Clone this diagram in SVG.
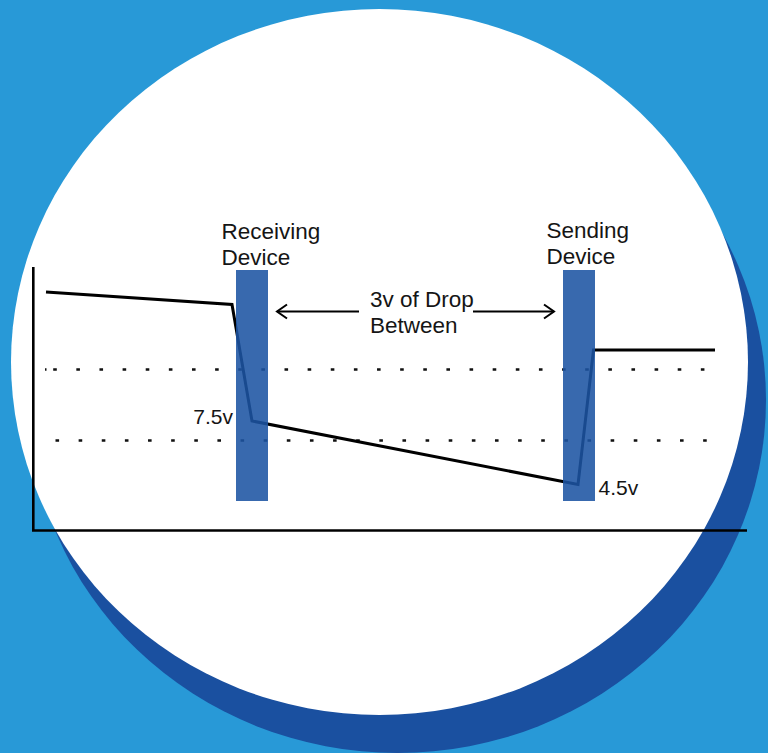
<svg xmlns="http://www.w3.org/2000/svg" width="768" height="753" viewBox="0 0 768 753">
  <style>
    .lbl { font-family: "Liberation Sans", Arial, sans-serif; font-size: 22.5px; fill: #151515; }
    .val { font-size: 21px; }
    .axis { stroke: #000; stroke-width: 2.6; fill: none; }
    .dots { stroke: #111; stroke-width: 2.4; stroke-dasharray: 3.6 19.53; fill: none; }
    .bar { fill: #1c54a3; opacity: 0.88; }
    .volt { stroke: #000; stroke-width: 3; fill: none; stroke-linejoin: miter; }
    .arrow { stroke: #000; stroke-width: 2; fill: none; }
  </style>
  <defs>
    <marker id="chev" markerUnits="userSpaceOnUse" markerWidth="20" markerHeight="20" refX="0" refY="0" orient="auto-start-reverse" overflow="visible">
      <path d="M-10,-7 L0,0 L-10,7" fill="none" stroke="#000" stroke-width="2"/>
    </marker>
  </defs>

  <g id="background">
    <rect x="0" y="0" width="768" height="753" fill="#2899d7"/>
    <ellipse cx="397.5" cy="400" rx="368.5" ry="353" fill="#1a50a0"/>
    <ellipse cx="379.5" cy="362" rx="368.5" ry="353" fill="#ffffff"/>
  </g>

  <g id="chart-axes">
    <line class="axis" x1="33.3" y1="267" x2="33.3" y2="531"/>
    <line class="axis" x1="32" y1="530.5" x2="747" y2="530.5"/>
  </g>

  <g id="gridlines">
    <line class="dots" x1="45" y1="369.5" x2="46.5" y2="369.5" stroke-dasharray="none"/>
    <line class="dots" x1="53.2" y1="369.5" x2="712" y2="369.5"/>
    <line class="dots" x1="55.5" y1="440.5" x2="714" y2="440.5"/>
  </g>

  <g id="connectors">
    <polyline id="voltage-line" class="volt" points="46,292 232,304.5 252,421 578,484.5 593.5,350 715,350"/>
    <line id="drop-arrow-left" class="arrow" x1="359" y1="311.5" x2="277" y2="311.5" marker-end="url(#chev)"/>
    <line id="drop-arrow-right" class="arrow" x1="473" y1="311.5" x2="554" y2="311.5" marker-end="url(#chev)"/>
  </g>

  <g id="receiving-device">
    <rect class="bar" x="236" y="270" width="32" height="231"/>
    <text class="lbl" x="221.5" y="238.5">Receiving</text>
    <text class="lbl" x="221.5" y="264.5">Device</text>
    <text class="lbl val" x="233" y="424" text-anchor="end">7.5v</text>
  </g>

  <g id="sending-device">
    <rect class="bar" x="563" y="270" width="32" height="231"/>
    <text class="lbl" x="546.5" y="238">Sending</text>
    <text class="lbl" x="546.5" y="264">Device</text>
    <text class="lbl val" x="598.5" y="495">4.5v</text>
  </g>

  <g id="drop-label">
    <text class="lbl" x="370" y="307">3v of Drop</text>
    <text class="lbl" x="370" y="333">Between</text>
  </g>
</svg>
